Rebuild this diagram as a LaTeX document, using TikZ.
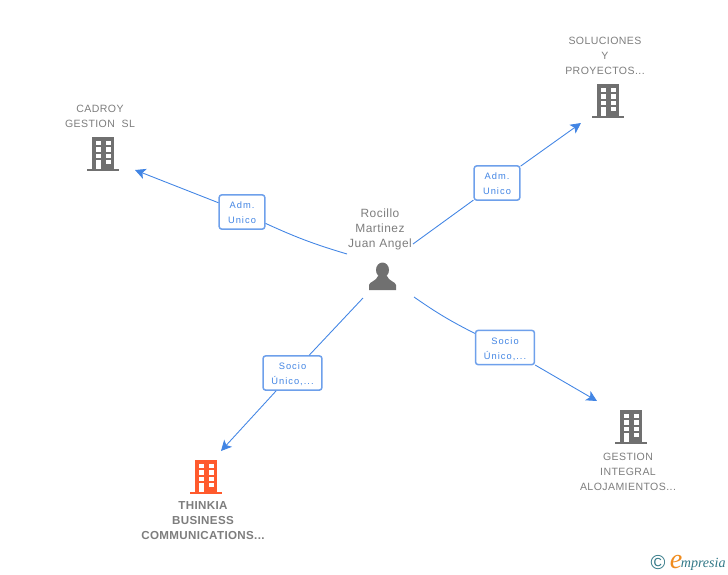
\documentclass[tikz,border=0pt]{standalone}
\usepackage{fontspec}
\setmainfont{Liberation Sans}
\newfontfamily\labelfont[LetterSpace=4]{Liberation Sans}
\newfontfamily\rolefont[LetterSpace=11]{Liberation Sans}
\newfontfamily\strongfont[LetterSpace=3,BoldFont={Liberation Sans Bold}]{Liberation Sans}
\newfontfamily\logofont{Liberation Serif}
\usetikzlibrary{calc,arrows.meta,positioning}

\begin{document}
\begin{tikzpicture}[x=0.02cm, y=-0.02cm, >={Stealth[length=6pt,width=6pt,inset=1.5pt]}]

  % Define colors
  \definecolor{linkblue}{RGB}{66,133,228}
  \definecolor{boxblue}{RGB}{110,160,235}
  \definecolor{icongray}{RGB}{112,112,112}
  \definecolor{textgray}{RGB}{125,125,125}
  \definecolor{thinkiared}{RGB}{255,90,45}
  \definecolor{logoteal}{RGB}{50,120,135}
  \definecolor{logoorange}{RGB}{240,140,30}

  \tikzset{
    link/.style={linkblue, line width=0.5pt},
    rolebox/.style={draw=boxblue, line width=0.85pt, fill=white, rounded corners=1.5pt, inner sep=0pt,
      align=center, text=linkblue, font=\rolefont\fontsize{5.3pt}{8.5pt}\selectfont,
      text height=13.4pt, text depth=0pt},
    firmlabel/.style={align=center, text=textgray, font=\labelfont\fontsize{6pt}{8.5pt}\selectfont},
    building/.pic={
      \fill[pic actions] (-11,0) rectangle (11,32);
      \fill[pic actions] (-16,32) rectangle (16,34);
      \foreach \wy/\wh in {3.7/4, 10/4.5, 16.7/4.5} {
        \fill[white] (-7.5,\wy) rectangle (-2.5,\wy+\wh);
        \fill[white] (2.5,\wy) rectangle (7.5,\wy+\wh);
      }
      \fill[white] (-7.5,23.3) rectangle (-2.5,31.5);
      \fill[white] (2.5,23.3) rectangle (7.5,27.3);
    },
    person/.pic={
      \fill[pic actions] (0,7) ellipse (6.5 and 7.5);
      \fill[pic actions] (-13.5,27) -- (-13.5,22) .. controls (-13.5,19) and (-6,18) .. (-4.5,13)
        -- (4.5,13) .. controls (6,18) and (13.5,19) .. (13.5,22) -- (13.5,27) -- cycle;
    }
  }

  \useasboundingbox (0,0) rectangle (728,575);

  % Central person
  \pic[icongray] (rocilloicon) at (382.5,263) {person};
  \node[firmlabel, font=\labelfont\fontsize{6.8pt}{8.5pt}\selectfont] (rocillo) at (380,229.5) {Rocillo\\Martinez\\Juan Angel};

  % Companies
  \pic[icongray] (cadroyicon) at (103,137) {building};
  \node[firmlabel] (cadroy) at (100,116) {CADROY\\GESTION\ \ SL};

  \pic[icongray] (solucionesicon) at (608,84) {building};
  \node[firmlabel] (soluciones) at (605,55.5) {SOLUCIONES\\Y\\PROYECTOS...};

  \pic[thinkiared] (thinkiaicon) at (206,460) {building};
  \node[firmlabel, font=\strongfont\bfseries\fontsize{6.6pt}{8.5pt}\selectfont] (thinkia) at (203,520.5) {THINKIA\\BUSINESS\\COMMUNICATIONS...};

  \pic[icongray] (gestionicon) at (631,410) {building};
  \node[firmlabel] (gestion) at (628,471.5) {GESTION\\INTEGRAL\\ALOJAMIENTOS...};

  % Role boxes
  \node[rolebox, minimum width=26pt, minimum height=19.5pt] (admcadroy) at (242,212) {Adm.\\Unico};
  \node[rolebox, minimum width=26pt, minimum height=19.5pt] (admsoluciones) at (497,183) {Adm.\\Unico};
  \node[rolebox, minimum width=33.5pt, minimum height=19.5pt] (sociothinkia) at (292.5,373) {Socio\\Único,...};
  \node[rolebox, minimum width=33.5pt, minimum height=19.5pt] (sociogestion) at (505,347.5) {Socio\\Único,...};

  % Free ends of the connectors
  \coordinate (fromcadroy) at (347,254);
  \coordinate (tocadroy) at (135,170);
  \coordinate (fromsoluciones) at (413,244);
  \coordinate (tosoluciones) at (581,123);
  \coordinate (fromthinkia) at (363,298);
  \coordinate (tothinkia) at (221,451);
  \coordinate (fromgestion) at (414,297);
  \coordinate (togestion) at (597,401);

  % Connectors
  \draw[link] (fromcadroy) to[bend left=4] (admcadroy);
  \draw[link, ->] (admcadroy) -- (tocadroy);
  \draw[link] (fromsoluciones) -- (admsoluciones);
  \draw[link, ->] (admsoluciones) -- (tosoluciones);
  \draw[link] (fromthinkia) -- (sociothinkia);
  \draw[link, ->] (sociothinkia) -- (tothinkia);
  \draw[link] (fromgestion) to[bend right=4] (sociogestion);
  \draw[link, ->] (sociogestion) -- (togestion);

  % Logo
  \node[text=logoteal, inner sep=0pt, font=\fontsize{11.5pt}{12pt}\selectfont] (logoc) at (658,563) {©};
  \node[text=logoorange, inner sep=0pt, font=\logofont\itshape\fontsize{16pt}{16pt}\selectfont] (logoe) at (676,562) {e};
  \node[text=logoteal, inner sep=0pt, anchor=west, font=\logofont\itshape\fontsize{8pt}{8pt}\selectfont] (logotext) at (680.5,564.5) {mpresia};

\end{tikzpicture}
\end{document}
